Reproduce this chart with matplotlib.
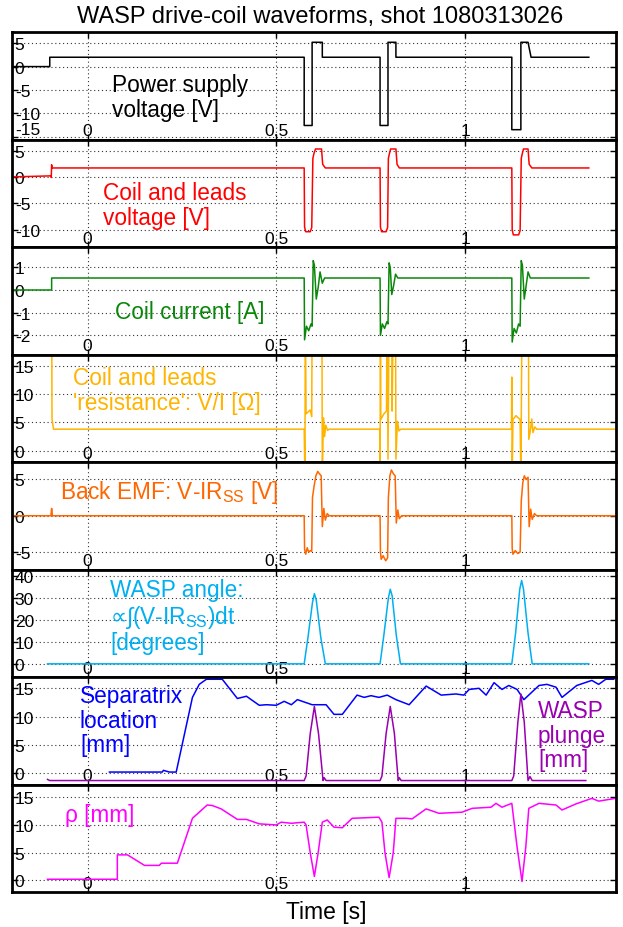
import numpy as np
import matplotlib.pyplot as plt

plt.rcParams['font.family'] = ['Liberation Sans', 'DejaVu Sans']
plt.rcParams['mathtext.fontset'] = 'custom'
plt.rcParams['mathtext.rm'] = 'Liberation Sans'
plt.rcParams['mathtext.it'] = 'Liberation Sans'
plt.rcParams['mathtext.sf'] = 'DejaVu Sans'
plt.rcParams['axes.unicode_minus'] = False

# ---- power supply voltage [V]
ps_t = [-0.2, -0.1, -0.1, 0.574, 0.574, 0.595, 0.595, 0.622, 0.622, 0.775, 0.775, 0.796,
        0.796, 0.817, 0.817, 1.124, 1.124, 1.148, 1.148, 1.167, 1.175, 1.328]
ps_v = [0, 0, 2, 2, -12.6, -12.6, 5.2, 5.2, 2, 2, -12.6, -12.6,
        5.2, 5.2, 2, 2, -13.5, -13.5, 5.2, 5.2, 2, 2]

# ---- coil and leads voltage [V]
cv_t = [-0.2, -0.097, -0.096, -0.095, -0.094, 0.574, 0.575, 0.578, 0.590, 0.594, 0.597, 0.600,
        0.604, 0.620, 0.623, 0.630, 0.775, 0.776, 0.779, 0.791, 0.795, 0.797, 0.800, 0.803,
        0.817, 0.820, 0.826, 1.124, 1.125, 1.128, 1.142, 1.146, 1.149, 1.152, 1.155, 1.167,
        1.170, 1.177, 1.328]
cv_v = [0, 0.2, -0.1, 2.3, 1.7, 1.7, -9.5, -10.4, -10.4, -9.6, 3.5, 4.5,
        5.3, 5.3, 2.4, 1.7, 1.7, -9.5, -10.4, -10.4, -9.6, 3.5, 4.5, 5.3,
        5.3, 2.4, 1.7, 1.7, -10.0, -11.0, -11.0, -10.2, 3.5, 4.5, 5.3, 5.3,
        2.4, 1.7, 1.7]

# ---- coil current [A]
cc_t = [-0.2, -0.095, -0.095, 0.574, 0.575, 0.580, 0.586, 0.592, 0.595, 0.598, 0.601, 0.606,
        0.611, 0.616, 0.622, 0.628, 0.775, 0.776, 0.781, 0.787, 0.793, 0.796, 0.799, 0.802,
        0.806, 0.811, 0.816, 0.822, 1.124, 1.125, 1.130, 1.136, 1.142, 1.146, 1.149, 1.152,
        1.157, 1.162, 1.167, 1.173, 1.328]
cc_v = [0, 0, 0.53, 0.53, -2.2, -1.6, -1.8, -1.5, -1.6, 1.3, 1.1, -0.4,
        0.1, 0.8, 0.3, 0.53, 0.53, -2.0, -1.5, -1.7, -1.4, -1.5, 1.2, 1.0,
        -0.2, 0.2, 0.7, 0.53, 0.53, -2.3, -1.7, -1.9, -1.5, -1.6, 1.3, 1.1,
        -0.4, 0.2, 0.8, 0.53, 0.53]

# ---- 'resistance' V/I [ohm]
rs_t = [-0.095, -0.094, -0.090, 0.574, 0.576, 0.577, 0.579, 0.590, 0.594, 0.595, 0.621, 0.622,
        0.625, 0.628, 0.631, 0.636, 0.640, 0.774, 0.775, 0.776, 0.777, 0.785, 0.792, 0.794,
        0.796, 0.799, 0.806, 0.807, 0.810, 0.816, 0.817, 0.821, 0.825, 0.830, 1.123, 1.124,
        1.125, 1.127, 1.135, 1.146, 1.148, 1.151, 1.168, 1.169, 1.173, 1.177, 1.180, 1.185,
        1.190, 1.40]
rs_v = [25, 5.6, 3.8, 3.8, -5, 25, 6.5, 7.2, 6.0, 25, 25, -5,
        5.8, 2.5, 4.5, 3.6, 3.8, 3.8, -5, 25, 5.5, 6.5, 7.0, 25,
        -1.5, 25, 25, 7.0, 25, 25, -1.5, 5.2, 3.5, 3.8, 3.8, 13,
        -5, 5.5, 6.2, 5.5, -5, 25, 25, 2.0, 3.5, 5.6, 3.2, 4.2,
        3.8, 3.8]

# ---- back EMF [V]
em_t = [-0.2, -0.097, -0.095, -0.093, 0.574, 0.575, 0.578, 0.582, 0.586, 0.590, 0.594, 0.596,
        0.600, 0.605, 0.610, 0.614, 0.619, 0.622, 0.626, 0.630, 0.635, 0.640, 0.775, 0.776,
        0.778, 0.783, 0.790, 0.795, 0.797, 0.801, 0.805, 0.810, 0.815, 0.818, 0.822, 0.826,
        0.832, 1.124, 1.125, 1.127, 1.133, 1.140, 1.146, 1.149, 1.153, 1.157, 1.162, 1.167,
        1.170, 1.174, 1.178, 1.184, 1.190, 1.40]
em_v = [0, 0, 1.0, 0, 0, -4.6, -5.3, -4.4, -5.0, -4.8, -4.9, 2.5,
        4.0, 5.5, 6.1, 5.8, 5.5, -1.5, 1.0, -0.6, 0.3, 0, 0, -5.0,
        -6.0, -5.5, -6.2, -5.8, 2.5, 5.5, 6.3, 5.8, 5.5, -1.0, 0.8, -0.4,
        0, 0, -4.5, -5.3, -4.8, -5.2, -5.0, 2.0, 4.5, 5.5, 5.0, 5.3,
        -1.5, 0.9, -0.5, 0.3, 0, 0]

# ---- WASP angle [degrees]
an_t = [-0.106, 0.574, 0.584, 0.596, 0.601, 0.606, 0.618, 0.630, 0.775, 0.785, 0.797, 0.802,
        0.807, 0.818, 0.829, 1.124, 1.134, 1.145, 1.150, 1.155, 1.167, 1.178, 1.328]
an_v = [0, 0, 12, 28, 32, 29, 12, 0, 0, 13, 30, 34,
        31, 13, 0, 0, 14, 34, 38, 34, 14, 0, 0]

# ---- separatrix location [mm]
sx_t = [0.058, 0.198, 0.201, 0.217, 0.235, 0.278, 0.296, 0.315, 0.357, 0.397, 0.421, 0.455,
        0.474, 0.500, 0.521, 0.540, 0.556, 0.595, 0.632, 0.653, 0.675, 0.714, 0.733, 0.751,
        0.772, 0.794, 0.817, 0.852, 0.897, 0.937, 0.976, 0.997, 1.011, 1.037, 1.056, 1.077,
        1.098, 1.116, 1.138, 1.156, 1.196, 1.217, 1.241, 1.257, 1.296, 1.336, 1.354, 1.373,
        1.394]
sx_v = [0.2, 0.2, 0.5, 0.2, 0.2, 13.4, 15.7, 16.6, 16.6, 13.2, 13.6, 12.0,
        12.1, 12.0, 12.7, 12.1, 13.0, 12.1, 12.1, 10.4, 10.4, 13.8, 13.4, 13.7,
        13.4, 13.8, 13.0, 12.1, 15.4, 13.8, 14.0, 13.8, 14.8, 15.0, 13.8, 16.0,
        14.8, 15.5, 14.8, 13.0, 15.5, 15.7, 15.2, 13.4, 15.5, 16.4, 15.7, 16.6,
        16.6]

# ---- WASP plunge [mm]
wp_t = [-0.106, -0.100, 0.574, 0.579, 0.590, 0.601, 0.612, 0.624, 0.627, 0.632, 0.775, 0.780,
        0.791, 0.802, 0.813, 0.823, 0.826, 0.831, 1.124, 1.129, 1.140, 1.148, 1.157, 1.167,
        1.172, 1.178, 1.320]
wp_v = [-1.1, -1.3, -1.3, -0.5, 7, 11.8, 7, -1.3, -0.8, -1.3, -1.3, -0.5,
        7, 11.8, 7, -1.3, -0.8, -1.3, -1.3, -0.5, 9, 14, 9, -1.3,
        -0.6, -1.3, -1.3]

# ---- rho [mm]
rh_t = [-0.106, 0.079, 0.079, 0.106, 0.151, 0.190, 0.196, 0.238, 0.278, 0.317, 0.331, 0.354,
        0.397, 0.421, 0.455, 0.500, 0.513, 0.540, 0.574, 0.579, 0.590, 0.601, 0.611, 0.622,
        0.635, 0.653, 0.675, 0.701, 0.772, 0.780, 0.788, 0.799, 0.810, 0.817, 0.844, 0.860,
        0.897, 0.931, 0.992, 1.019, 1.069, 1.082, 1.098, 1.124, 1.138, 1.151, 1.161, 1.169,
        1.196, 1.241, 1.257, 1.294, 1.336, 1.354, 1.399]
rh_v = [0.2, 0.2, 4.6, 4.6, 2.7, 2.7, 3.1, 3.1, 11.2, 13.6, 13.5, 12.9,
        11.0, 11.0, 10.2, 10.0, 10.5, 10.3, 10.5, 10.0, 5.0, 0.7, 5.0, 10.5,
        10.9, 9.6, 9.5, 11.2, 11.4, 10.5, 5.0, 0.5, 5.0, 11.2, 11.2, 11.1,
        12.9, 12.1, 12.3, 13.0, 13.2, 13.9, 13.2, 13.9, 6.0, -0.2, 6.0, 13.0,
        13.9, 13.6, 12.7, 13.8, 14.8, 14.3, 14.8]

ylims = [(-15.6, 7.4), (-13.3, 7.1), (-2.85, 1.9), (-2.0, 17.0),
         (-7.4, 7.4), (-6.0, 43.0), (-2.0, 17.0), (-2.1, 17.3)]
yticks = [[-15, -10, -5, 0, 5], [-10, -5, 0, 5], [-2, -1, 0, 1], [0, 5, 10, 15],
          [-5, 0, 5], [0, 10, 20, 30, 40], [0, 5, 10, 15], [0, 5, 10, 15]]

fig = plt.figure(figsize=(6.23, 9.28), dpi=100)
axes = fig.subplots(8, 1, gridspec_kw=dict(hspace=0))
fig.subplots_adjust(left=12/623, right=616/623, top=1-33/928, bottom=1-893/928)

series = [
    [(ps_t, ps_v, 'black')],
    [(cv_t, cv_v, '#ff0000')],
    [(cc_t, cc_v, '#0a870a')],
    [(rs_t, rs_v, '#ffb400')],
    [(em_t, em_v, '#ff6600')],
    [(an_t, an_v, '#00aff0')],
    [(sx_t, sx_v, '#0000ff'), (wp_t, wp_v, '#9a00b0')],
    [(rh_t, rh_v, '#ff00ff')],
]

for i, ax in enumerate(axes):
    for t, v, c in series[i]:
        ax.plot(t, v, color=c, lw=1.1)
    ax.set_xlim(-0.2, 1.4)
    ax.set_ylim(*ylims[i])
    ax.set_xticks([0, 0.5, 1])
    ax.set_xticklabels(['0', '0.5', '1'])
    ax.set_yticks(yticks[i])
    ax.set_yticklabels([str(v) for v in yticks[i]])
    ax.grid(True, color='0.2', lw=0.8, linestyle=(0, (1, 2.5)))
    ax.tick_params(axis='both', direction='in', length=4, width=1, labelsize=12.5,
                   top=True, right=True)
    ax.tick_params(axis='y', pad=-2)
    ax.tick_params(axis='x', pad=-1)
    for lab in ax.get_yticklabels():
        lab.set_horizontalalignment('left')
    for lab in ax.get_xticklabels():
        lab.set_verticalalignment('bottom')
    for s in ax.spines.values():
        s.set_linewidth(2)

# lowest label of the first panel sits just above the border
axes[0].get_yticklabels()[0].set_verticalalignment('bottom')

W, H = 623, 928
fs = 16.3
labels = [
    (112, 98, 'Power supply\nvoltage [V]', 'black'),
    (103, 206, 'Coil and leads\nvoltage [V]', '#ff0000'),
    (115, 312, 'Coil current [A]', '#0a870a'),
    (73, 391, "Coil and leads\n'resistance': V/I [Ω]", '#ffb400'),
    (60, 493, 'Back EMF: V-IR$_{\\mathrm{SS}}$ [V]', '#ff6600'),
    (110, 617, 'WASP angle:\n$\\mathsf{∝}$∫(V-IR$_{\\mathrm{SS}}$)dt\n[degrees]', '#00aff0'),
    (80, 721, 'Separatrix\nlocation\n[mm]', '#0000ff'),
    (538, 736, 'WASP\nplunge\n[mm]', '#9a00b0'),
    (65, 816, 'ρ [mm]', '#ff00ff'),
]
for x, y, s, c in labels:
    fig.text(x / W, 1 - y / H, s, color=c, fontsize=fs, ha='left', va='center',
             linespacing=1.1)

fig.text(320 / W, 1 - 17 / H, 'WASP drive-coil waveforms, shot 1080313026',
         fontsize=17, ha='center', va='center')
fig.text(326 / W, 1 - 913 / H, 'Time [s]', fontsize=16.5, ha='center', va='center')

fig.savefig('out.png', dpi=100)
